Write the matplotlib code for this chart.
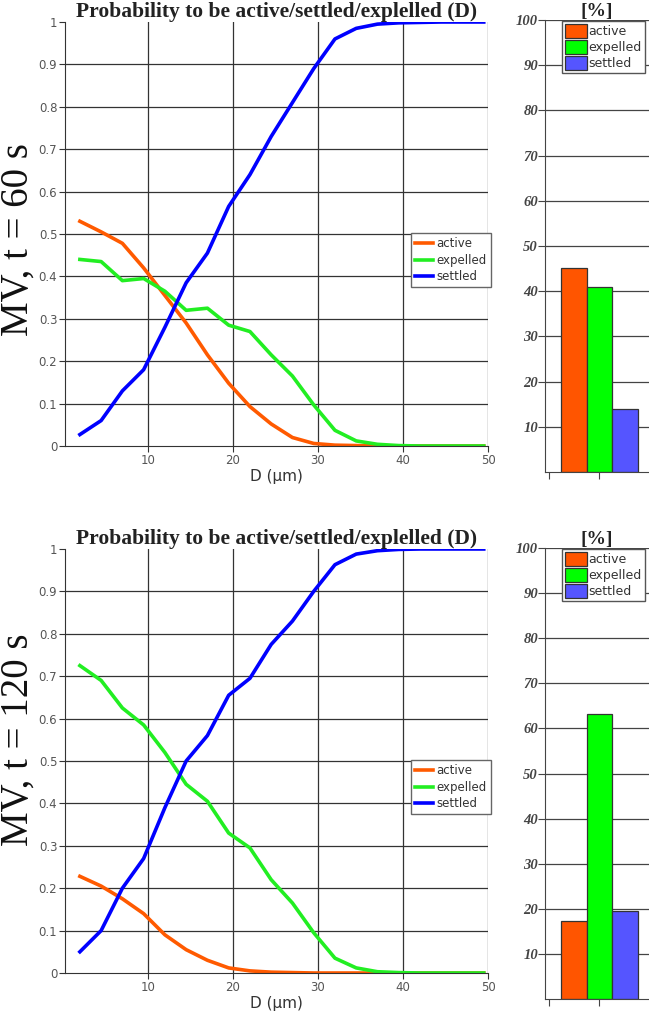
import numpy as np
import matplotlib
matplotlib.use("Agg")
import matplotlib.pyplot as plt

# particle diameter grid (µm)
D = [2, 4.5, 7, 9.5, 12, 14.5, 17, 19.5, 22, 24.5, 27, 29.5, 32, 34.5, 37,
     39.5, 42, 44.5, 47, 49.5]

# t = 60 s
active_60 = [0.53, 0.505, 0.478, 0.42, 0.355, 0.29, 0.215, 0.148, 0.093, 0.052,
             0.02, 0.006, 0.002, 0.001, 0.0, 0.0, 0.0, 0.0, 0.0, 0.0]
expelled_60 = [0.44, 0.435, 0.39, 0.395, 0.365, 0.32, 0.325, 0.285, 0.27, 0.215,
               0.165, 0.097, 0.037, 0.012, 0.004, 0.001, 0.0, 0.0, 0.0, 0.0]
settled_60 = [0.027, 0.06, 0.13, 0.18, 0.28, 0.385, 0.455, 0.565, 0.64, 0.73,
              0.81, 0.89, 0.96, 0.985, 0.995, 0.998, 0.999, 1.0, 1.0, 1.0]

# t = 120 s
active_120 = [0.228, 0.205, 0.175, 0.14, 0.09, 0.055, 0.03, 0.012, 0.005, 0.002,
              0.001, 0.0, 0.0, 0.0, 0.0, 0.0, 0.0, 0.0, 0.0, 0.0]
expelled_120 = [0.725, 0.69, 0.625, 0.585, 0.52, 0.445, 0.405, 0.33, 0.295, 0.22,
                0.165, 0.095, 0.035, 0.012, 0.003, 0.001, 0.0, 0.0, 0.0, 0.0]
settled_120 = [0.05, 0.1, 0.2, 0.27, 0.39, 0.5, 0.56, 0.655, 0.695, 0.775,
               0.83, 0.9, 0.963, 0.988, 0.996, 0.999, 1.0, 1.0, 1.0, 1.0]

# totals [%]
categories = ["active", "expelled", "settled"]
totals_60 = [45.1, 40.9, 14.0]
totals_120 = [17.2, 63.3, 19.5]

row_labels = ["MV, t = 60 s", "MV, t = 120 s"]
title = "Probability to be active/settled/explelled (D)"

LINE_COLORS = {"active": "#ff5a00", "expelled": "#22ee22", "settled": "#0000ff"}
BAR_COLORS = {"active": "#ff5500", "expelled": "#00ff00", "settled": "#5555ff"}
GRAY = "#555555"
SERIF = ["Liberation Serif", "DejaVu Serif"]


def line_panel(ax, act, exp, sett):
    for y in np.arange(1, 10) / 10:
        ax.axhline(y, color="#333333", lw=0.9, zorder=0)
    for x in [10, 20, 30, 40, 50]:
        ax.axvline(x, color="#333333", lw=0.9, zorder=0)
    ax.plot(D, act, color=LINE_COLORS["active"], lw=2.6, label="active")
    ax.plot(D, exp, color=LINE_COLORS["expelled"], lw=2.6, label="expelled")
    ax.plot(D, sett, color=LINE_COLORS["settled"], lw=2.6, label="settled")
    ax.set_xlim(0.25, 50)
    ax.set_ylim(0, 1)
    ax.set_xticks([10, 20, 30, 40, 50])
    ax.set_yticks(np.round(np.arange(0, 11) / 10, 1))
    ax.set_yticklabels(["0"] + [f"{v/10:.1f}" for v in range(1, 10)] + ["1"])
    for s in ["top", "right"]:
        ax.spines[s].set_visible(False)
    for s in ["left", "bottom"]:
        ax.spines[s].set_color("#333333")
    ax.tick_params(labelsize=8.5, labelcolor=GRAY, color="#333333",
                   length=4, pad=1.5)
    ax.set_xlabel("D (µm)", fontsize=11, color="#333333", labelpad=2)
    ax.set_title(title, fontsize=15.5, fontweight="bold", family=SERIF,
                 color="#222222", pad=2)
    leg = ax.legend(loc="upper left", bbox_to_anchor=(0.818, 0.502),
                    borderaxespad=0, fontsize=8.5, handlelength=1.5,
                    handletextpad=0.3, borderpad=0.35, labelspacing=0.3,
                    fancybox=False, framealpha=1, edgecolor="#666666")
    for t in leg.get_texts():
        t.set_color("#333333")


def bar_panel(ax, vals):
    for y in range(10, 101, 10):
        ax.axhline(y, color="#444444", lw=0.9, zorder=0)
    x = np.arange(len(categories))
    ax.bar(x, vals, width=1.0, color=[BAR_COLORS[c] for c in categories],
           edgecolor="#333333", lw=0.9, zorder=2,
           label=categories)
    ax.set_xlim(-1.12, 2.93)
    ax.set_ylim(0, 100)
    ax.set_yticks(range(10, 101, 10))
    ax.set_yticklabels([str(v) for v in range(10, 101, 10)],
                       fontstyle="italic", fontweight="bold", family=SERIF)
    ax.set_xticks([-0.97, 1])
    ax.set_xticklabels([])
    ax.tick_params(axis="y", labelsize=10.5, labelcolor="#444444", length=5,
                   color="#444444", pad=0)
    ax.tick_params(axis="x", length=5, color="#444444", direction="out")
    for s in ["top", "right"]:
        ax.spines[s].set_visible(False)
    ax.spines["left"].set_color("#444444")
    ax.spines["bottom"].set_color("#444444")
    ax.set_title("[%]", fontsize=14, fontweight="bold", family=SERIF,
                 color="#222222", pad=1)
    leg = ax.legend(loc="upper left", bbox_to_anchor=(0.155, 1.0),
                    fontsize=9, handlelength=1.7, handleheight=1.3,
                    handletextpad=0.15, borderpad=0.25, borderaxespad=0.1,
                    labelspacing=0.15, fancybox=False, framealpha=1,
                    edgecolor="#555555")
    for t in leg.get_texts():
        t.set_color("#333333")


W, H = 649, 1013
fig = plt.figure(figsize=(W / 100, H / 100), dpi=100)

line_boxes = [(65, 22, 488, 446), (65, 549, 488, 973)]
bar_boxes = [(545, 20, 649, 472), (545, 548, 649, 999)]
label_y = [240, 740]
line_data = [(active_60, expelled_60, settled_60),
             (active_120, expelled_120, settled_120)]
bar_data = [totals_60, totals_120]

for i in range(2):
    l, t, r, b = line_boxes[i]
    ax = fig.add_axes([l / W, 1 - b / H, (r - l) / W, (b - t) / H])
    line_panel(ax, *line_data[i])
    l, t, r, b = bar_boxes[i]
    axb = fig.add_axes([l / W, 1 - b / H, (r - l) / W, (b - t) / H])
    bar_panel(axb, bar_data[i])
    fig.text(18 / W, 1 - label_y[i] / H, row_labels[i], rotation=90,
             fontsize=28, family=SERIF, color="#111111",
             ha="center", va="center")

fig.savefig("out.png", dpi=100)
